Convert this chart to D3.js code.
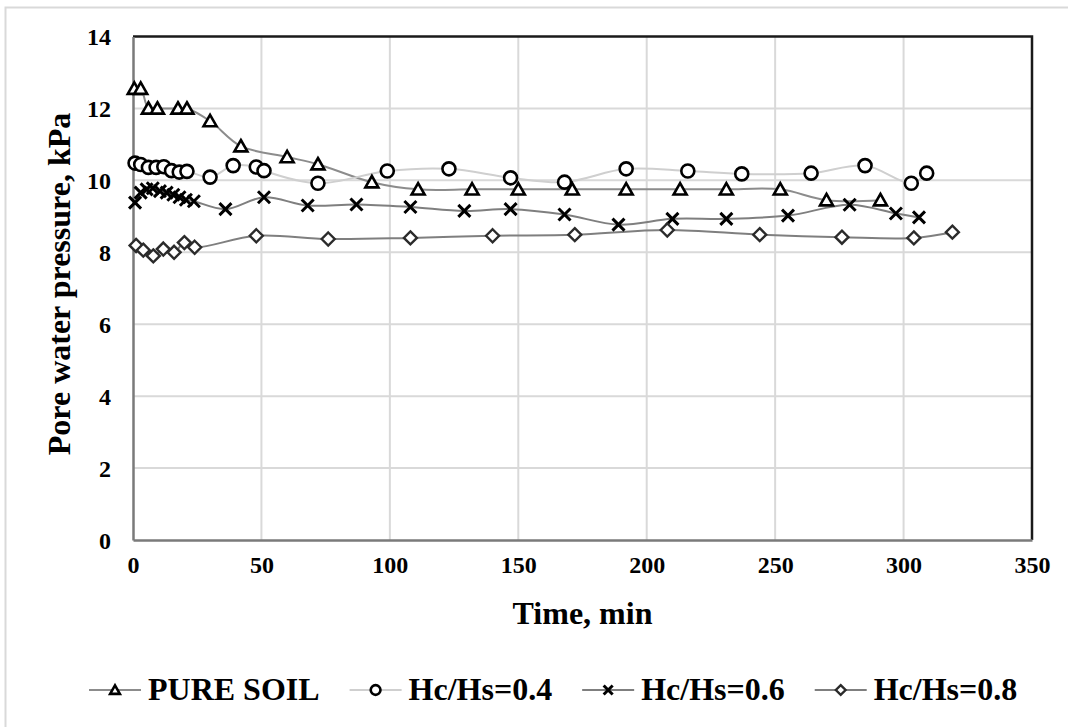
<!DOCTYPE html>
<html>
<head>
<meta charset="utf-8">
<script src="https://cdn.jsdelivr.net/npm/d3@7"></script>
<style>
    body { margin: 0; background: #fff; }
    svg { display: block; }
    text { font-family: "Liberation Serif", "Times New Roman", serif; font-weight: bold; fill: #000; }
</style>
</head>
<body>
<svg id="chart" width="1068" height="727"></svg>
<script>
// values
const pureSoilTime = [0.5, 3, 6, 9.5, 17.5, 21, 30, 42, 60, 72, 93, 111, 132, 150, 171, 192, 213, 231, 252, 270, 291];
const pureSoilPwp = [12.55, 12.55, 12.0, 12.0, 12.0, 12.0, 11.65, 10.95, 10.65, 10.45, 9.95, 9.75, 9.75, 9.75, 9.75, 9.75, 9.75, 9.75, 9.75, 9.45, 9.45];

const hc04Time = [0.8, 3, 6, 9, 12, 15, 18, 21, 30, 39, 48, 51, 72, 99, 123, 147, 168, 192, 216, 237, 264, 285, 303, 309];
const hc04Pwp = [10.48, 10.44, 10.36, 10.36, 10.38, 10.27, 10.23, 10.25, 10.09, 10.41, 10.37, 10.27, 9.92, 10.26, 10.32, 10.07, 9.95, 10.32, 10.26, 10.18, 10.2, 10.41, 9.92, 10.2];

const hc06Time = [0.8, 3, 5.3, 7.7, 10.5, 13.1, 15.7, 18.1, 20.6, 23.7, 36, 51, 68, 87, 108, 129, 147, 168, 189, 210, 231, 255, 279, 297, 306];
const hc06Pwp = [9.38, 9.66, 9.75, 9.78, 9.7, 9.66, 9.6, 9.53, 9.46, 9.42, 9.2, 9.53, 9.3, 9.33, 9.26, 9.15, 9.2, 9.05, 8.77, 8.93, 8.93, 9.02, 9.32, 9.08, 8.97];

const hc08Time = [1.2, 4, 7.9, 11.8, 16, 20, 24, 48, 76, 108, 140, 172, 208, 244, 276, 304, 319];
const hc08Pwp = [8.19, 8.06, 7.9, 8.09, 8.0, 8.27, 8.14, 8.46, 8.37, 8.4, 8.46, 8.49, 8.62, 8.49, 8.42, 8.4, 8.56];

const seriesNames = ['PURE SOIL', 'Hc/Hs=0.4', 'Hc/Hs=0.6', 'Hc/Hs=0.8'];
const xTicks = [0, 50, 100, 150, 200, 250, 300, 350];
const yTicks = [0, 2, 4, 6, 8, 10, 12, 14];

const series = [
    { name: seriesNames[0], time: pureSoilTime, pwp: pureSoilPwp, marker: 'triangle', line: '#8c8c8c' },
    { name: seriesNames[1], time: hc04Time, pwp: hc04Pwp, marker: 'circle', line: '#cfcfcf' },
    { name: seriesNames[2], time: hc06Time, pwp: hc06Pwp, marker: 'cross', line: '#7f7f7f' },
    { name: seriesNames[3], time: hc08Time, pwp: hc08Pwp, marker: 'diamond', line: '#7f7f7f' },
];

const margin = {
    left: 133,
    right: 36,
    top: 36.5,
    bottom: 187,
};

const svg = d3.select('#chart');
const width = +svg.attr('width');
const height = +svg.attr('height');

const x = d3.scaleLinear().domain([0, 350]).range([margin.left, width - margin.right]);
const y = d3.scaleLinear().domain([0, 14]).range([height - margin.bottom, margin.top]);

// outer chart border (only left/top edges are on the page)
svg.append('rect')
    .attr('x', 5.5).attr('y', 7.5)
    .attr('width', 1080).attr('height', 740)
    .attr('fill', 'none')
    .attr('stroke', '#d9d9d9')
    .attr('stroke-width', 2);

// gridlines
const grid = svg.append('g')
    .attr('stroke', '#d9d9d9')
    .attr('stroke-width', 2);

grid.selectAll('line.h')
    .data(yTicks.slice(1, -1))
    .enter().append('line')
    .attr('class', 'h')
    .attr('x1', x(0)).attr('x2', x(350))
    .attr('y1', d => y(d)).attr('y2', d => y(d));

grid.selectAll('line.v')
    .data(xTicks.slice(1, -1))
    .enter().append('line')
    .attr('class', 'v')
    .attr('x1', d => x(d)).attr('x2', d => x(d))
    .attr('y1', y(0)).attr('y2', y(14));

// plot frame: dark top/right, grey axes left/bottom
svg.append('path')
    .attr('d', `M${x(0)},${y(14)}H${x(350)}V${y(0)}`)
    .attr('fill', 'none')
    .attr('stroke', '#1a1a1a')
    .attr('stroke-width', 2.5);

const xAxis = d3.axisBottom(x).tickValues(xTicks).tickSize(0).tickPadding(16);
const yAxis = d3.axisLeft(y).tickValues(yTicks).tickSize(0).tickPadding(22);

const gx = svg.append('g')
    .attr('transform', `translate(0,${y(0)})`)
    .call(xAxis);
const gy = svg.append('g')
    .attr('transform', `translate(${x(0)},0)`)
    .call(yAxis);

[gx, gy].forEach(g => {
    g.select('.domain').attr('stroke', '#7a7a7a').attr('stroke-width', 2.5);
    g.selectAll('text')
        .style('font-family', '"Liberation Serif", serif')
        .style('font-weight', 'bold')
        .style('font-size', '24px')
        .attr('fill', '#000');
});
gy.selectAll('text').attr('dy', '0.34em');

// axis titles
svg.append('text')
    .attr('x', (x(0) + x(350)) / 2)
    .attr('y', 624)
    .attr('text-anchor', 'middle')
    .style('font-size', '32px')
    .text('Time, min');

svg.append('text')
    .attr('transform', 'translate(70,284) rotate(-90)')
    .attr('text-anchor', 'middle')
    .style('font-size', '32px')
    .text('Pore water pressure, kPa');

function drawMarker(g, type, s) {
    if (type === 'triangle') {
        g.append('path')
            .attr('d', `M0,${-s * 0.95}L${s},${s * 0.8}L${-s},${s * 0.8}Z`)
            .attr('fill', '#fff')
            .attr('stroke', '#000')
            .attr('stroke-width', 2.6)
            .attr('stroke-linejoin', 'miter');
    } else if (type === 'circle') {
        g.append('circle')
            .attr('r', s)
            .attr('fill', '#fff')
            .attr('stroke', '#000')
            .attr('stroke-width', 2.6);
    } else if (type === 'cross') {
        g.append('path')
            .attr('d', `M${-s},${-s}L${s},${s}M${-s},${s}L${s},${-s}`)
            .attr('stroke', '#000')
            .attr('stroke-width', 3);
    } else if (type === 'diamond') {
        g.append('path')
            .attr('d', `M0,${-s}L${s},0L0,${s}L${-s},0Z`)
            .attr('fill', '#fff')
            .attr('stroke', '#2b2b2b')
            .attr('stroke-width', 2.4);
    }
}

const markerSize = { triangle: 6.5, circle: 6.5, cross: 6, diamond: 6.5 };

const line = d3.line()
    .x(d => x(d[0]))
    .y(d => y(d[1]))
    .curve(d3.curveCatmullRom.alpha(0.5));

series.forEach(s => {
    const pts = s.time.map((t, i) => [t, s.pwp[i]]);
    svg.append('path')
        .datum(pts)
        .attr('d', line)
        .attr('fill', 'none')
        .attr('stroke', s.line)
        .attr('stroke-width', 2);
});

series.forEach(s => {
    const pts = s.time.map((t, i) => [t, s.pwp[i]]);
    svg.append('g')
        .selectAll('g')
        .data(pts)
        .enter().append('g')
        .attr('transform', d => `translate(${x(d[0])},${y(d[1])})`)
        .each(function () { drawMarker(d3.select(this), s.marker, markerSize[s.marker]); });
});

// legend
const legend = svg.append('g');
let lx = 89;
const ly = 690;
series.forEach(s => {
    const item = legend.append('g');
    item.append('line')
        .attr('x1', lx).attr('x2', lx + 52)
        .attr('y1', ly).attr('y2', ly)
        .attr('stroke', s.line)
        .attr('stroke-width', 2);
    const m = item.append('g').attr('transform', `translate(${lx + 26},${ly})`);
    drawMarker(m, s.marker, markerSize[s.marker] * 0.75);
    const t = item.append('text')
        .attr('x', lx + 59)
        .attr('y', ly + 10)
        .style('font-size', '32px')
        .text(s.name);
    lx = lx + 59 + t.node().getComputedTextLength() + 30;
});
</script>
</body>
</html>
